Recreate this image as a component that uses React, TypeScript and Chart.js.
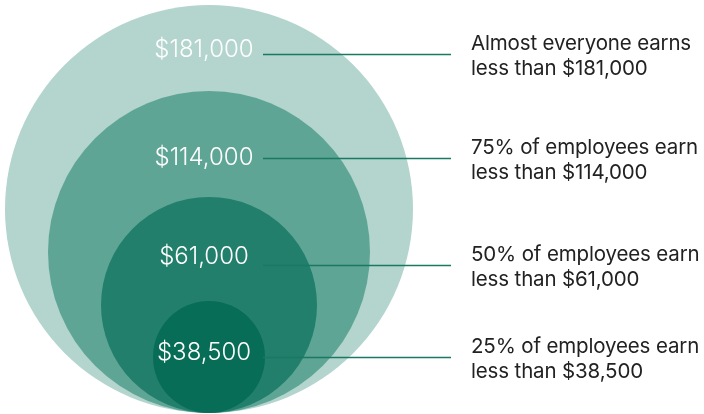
import React, { useEffect, useRef } from "react";
import { Chart, registerables } from "chart.js";

Chart.register(...registerables);

// Data
const values = [181000, 114000, 61000, 38500];
const valueLabels = ["$181,000", "$114,000", "$61,000", "$38,500"];
const descriptions = [
  ["Almost everyone earns", "less than $181,000"],
  ["75% of employees earn", "less than $114,000"],
  ["50% of employees earn", "less than $61,000"],
  ["25% of employees earn", "less than $38,500"],
];
// circle sizes (radius in chart units)
const circleRadii = [204, 161, 108, 56];
const colors = ["#b3d5ce", "#5fa596", "#217f6b", "#086d57"];

// layout constants (chart units: x 0..704, y 0..414 upward)
const CENTER_X = 209;
const BASE_Y = 1;
const leaderY = [360, 256, 149, 57];
const labelY = [364, 256, 157, 61];
const LABEL_X = 204;
const LEADER_X0 = 263;
const LEADER_X1 = 451;
const DESC_X = 471;

const overlayPlugin = {
  id: "overlay",
  afterDatasetsDraw(chart: any) {
    const { ctx, scales } = chart;
    const xs = scales.x;
    const ys = scales.y;
    ctx.save();
    values.forEach((_, i) => {
      const ly = Math.round(ys.getPixelForValue(leaderY[i])) + 0.5;
      // leader line
      ctx.strokeStyle = "#1b7862";
      ctx.lineWidth = 1.3;
      ctx.beginPath();
      ctx.moveTo(xs.getPixelForValue(LEADER_X0), ly);
      ctx.lineTo(xs.getPixelForValue(LEADER_X1), ly);
      ctx.stroke();
      // value label
      ctx.fillStyle = "#ffffff";
      ctx.font = "300 24px Inter, 'Noto Sans', sans-serif";
      (ctx as any).letterSpacing = "0px";
      ctx.textAlign = "center";
      ctx.textBaseline = "middle";
      ctx.fillText(valueLabels[i], xs.getPixelForValue(LABEL_X), ys.getPixelForValue(labelY[i]));
      // description
      ctx.fillStyle = "#222222";
      ctx.font = "400 20.5px Inter, 'Noto Sans', sans-serif";
      (ctx as any).letterSpacing = "-0.15px";
      ctx.textAlign = "left";
      ctx.fillText(descriptions[i][0], xs.getPixelForValue(DESC_X), ly - 11);
      ctx.fillText(descriptions[i][1], xs.getPixelForValue(DESC_X), ly + 14);
    });
    ctx.restore();
  },
};

export default function App() {
  const ref = useRef<HTMLCanvasElement | null>(null);
  useEffect(() => {
    document.body.style.margin = "0";
    const canvas = ref.current!;
    const radiusFor = (c: any) => {
      const s = c.chart.scales.x;
      const r = circleRadii[c.dataIndex];
      return Math.abs(s.getPixelForValue(r) - s.getPixelForValue(0));
    };
    const chart = new Chart(canvas, {
      type: "scatter",
      data: {
        datasets: [
          {
            data: circleRadii.map((r) => ({ x: CENTER_X, y: BASE_Y + r })),
            pointBackgroundColor: colors,
            pointBorderWidth: 0,
            pointBorderColor: "rgba(0,0,0,0)",
            pointRadius: radiusFor,
            pointHoverRadius: radiusFor,
            clip: false as any,
          },
        ],
      },
      options: {
        animation: false,
        responsive: false,
        events: [],
        layout: { padding: 0 },
        plugins: { legend: { display: false }, tooltip: { enabled: false } },
        scales: {
          x: { type: "linear", min: 0, max: 704, display: false },
          y: { type: "linear", min: 0, max: 414, display: false },
        },
      },
      plugins: [overlayPlugin],
    });
    return () => chart.destroy();
  }, []);
  return (
    <div style={{ width: 704, height: 414, background: "#fff" }}>
      <canvas ref={ref} width={704} height={414} style={{ display: "block" }} />
    </div>
  );
}
